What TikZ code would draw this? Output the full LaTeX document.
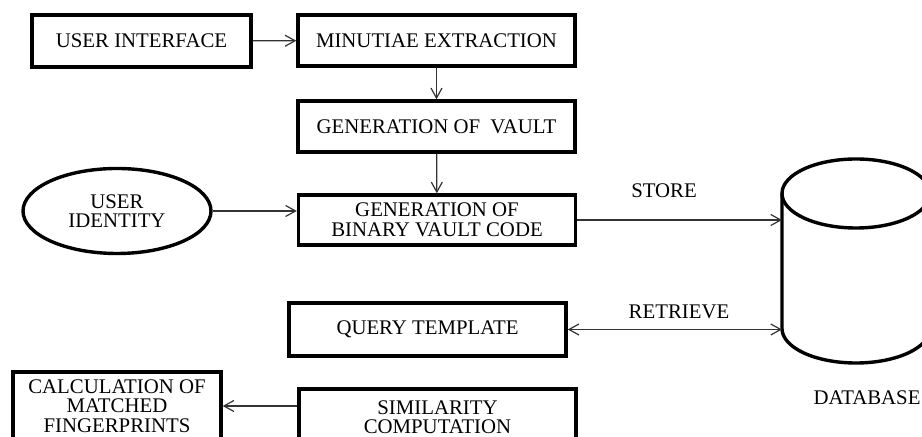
\documentclass[tikz,border=0pt]{standalone}
\usepackage{fontspec}
\setmainfont{Liberation Serif}
\usetikzlibrary{arrows.meta,shapes.geometric}
\tikzset{
  box/.style={draw, line width=1.7pt, inner sep=0pt, align=center, minimum width=138.5pt, minimum height=25.5pt},
  barb/.tip={Straight Barb[length=5pt,width=5.5pt]},
  conn/.style={line width=0.6pt, draw=black!80, -barb},
}

\begin{document}
\begin{tikzpicture}[x=0.5pt, y=-0.5pt, font=\fontsize{10.4}{9.75}\selectfont]
		%%%%% START %%%%%
		\clip (0,0) rectangle (922,437);
		\fill[white] (0,0) rectangle (922,437);
		
		\node[box, minimum width=109.5pt, minimum height=26pt] (ui) at (141.5,41) {USER INTERFACE};
		\node[box] (minutiae) at (436.5,40.5) {MINUTIAE EXTRACTION};
		\node[box] (vault) at (436.5,126.5) {GENERATION OF\ \ VAULT};
		\node[box, minimum height=25pt] (binary) at (437,220) {GENERATION OF\\BINARY VAULT CODE};
		\node[draw, ellipse, line width=1.7pt, inner sep=0pt, minimum width=94pt, minimum height=42.5pt, align=center] (identity) at (117,211) {USER\\IDENTITY};
		\node[box, minimum height=26.5pt] (query) at (427.5,329.5) {QUERY TEMPLATE};
		\node[box, minimum width=104pt, minimum height=34pt] (calc) at (117,406) {CALCULATION OF\\MATCHED\\FINGERPRINTS};
		\node[box, minimum height=28pt] (similarity) at (437.5,417) {SIMILARITY\\COMPUTATION};
		
		% database
		\draw[line width=1.7pt] (856,193.5) ellipse (74 and 34.5);
		\draw[line width=1.7pt] (782,193.5) -- (782,328.5) arc (180:0:74 and 34.5) -- (930,193.5);
		\coordinate (db) at (782,278);
		\node (database) at (867,398) {DATABASE};
		
		\draw[conn] (ui) -- (minutiae);
		\draw[conn] (minutiae) -- (vault);
		\draw[conn] (vault) -- (binary);
		\draw[conn] (identity.east) -- (identity.east -| binary.west);
		\draw[conn] (binary.east) -- (binary.east -| db);
		\draw[conn, barb-barb] (query.east) -- (query.east -| db);
		\draw[conn] (calc.east -| similarity.west) -- (calc.east);
		
		\node (store) at (664,190.5) {STORE};
		\node (retrieve) at (679,311.5) {RETRIEVE};
		%%%%% END %%%%%
	\end{tikzpicture}
\end{document}
